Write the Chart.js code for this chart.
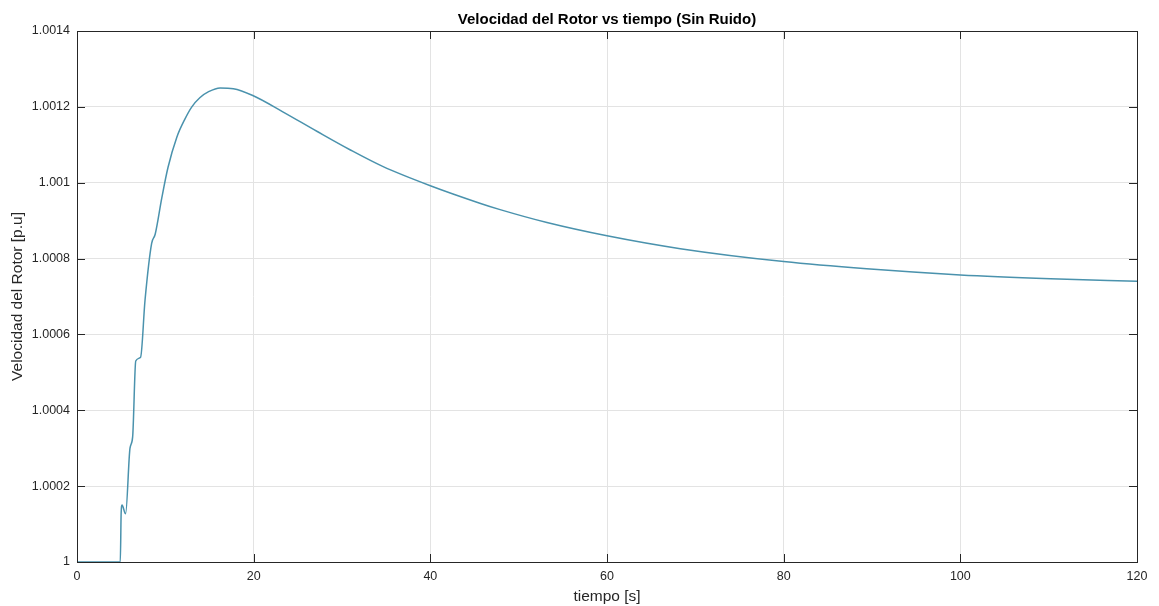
<!DOCTYPE html>
<html>
<head>
<meta charset="utf-8">
<script src="https://cdn.jsdelivr.net/npm/chart.js@4/dist/chart.umd.min.js"></script>
<style>
  html, body { margin: 0; padding: 0; background: #fff; }
  #wrap { width: 1159px; height: 606px; position: relative; }
</style>
</head>
<body>
<div id="wrap"><canvas id="chart-rotor"></canvas></div>
<script>
// ── DATOS ────────────────────────────────────────────────────────────────────

const tiempo = [0, 4.9, 5.0, 5.1, 5.5, 6.0, 6.3, 6.65, 7.2, 7.7, 8.45, 8.85, 9.6, 10.3,
  11.3, 12.2, 13.0, 13.9, 14.9, 16.2, 17.7, 19.9, 23.3, 27.2, 30.9, 34.6, 40, 45.6,
  47.9, 53.2, 60, 68.3, 80, 89.4, 100, 110.2, 120]

const velocidad = [1, 1, 1.00013, 1.00015, 1.000127, 1.0003, 1.00033, 1.00053, 1.00054,
  1.00069, 1.00084, 1.000864, 1.00096, 1.00104, 1.00112, 1.001167, 1.0012, 1.001224,
  1.00124, 1.00125, 1.001248, 1.00123, 1.001187, 1.001135, 1.001087, 1.001043,
  1.000992, 1.000946, 1.000929, 1.000895, 1.00086, 1.000826, 1.000792, 1.000773,
  1.000757, 1.000747, 1.00074]

const xTicks = [0, 20, 40, 60, 80, 100, 120]
const yTicks = [1, 1.0002, 1.0004, 1.0006, 1.0008, 1.001, 1.0012, 1.0014]

const FONT = 'Liberation Sans, Arial, Helvetica, sans-serif'

// ── PLUGIN: marco y marcas hacia dentro (estilo MATLAB) ──────────────────────

const boxPlugin = {
  id: 'box',
  afterDraw(chart) {
    const { ctx, chartArea: a, scales } = chart
    ctx.save()
    ctx.strokeStyle = '#262626'
    ctx.lineWidth = 1
    ctx.strokeRect(a.left + 0.5, a.top + 0.5, a.right - a.left, a.bottom - a.top)
    const len = 8
    ctx.beginPath()
    xTicks.forEach(v => {
      const x = Math.round(scales.x.getPixelForValue(v)) + 0.5
      ctx.moveTo(x, a.bottom); ctx.lineTo(x, a.bottom - len)
      ctx.moveTo(x, a.top); ctx.lineTo(x, a.top + len)
    })
    yTicks.forEach(v => {
      const y = Math.round(scales.y.getPixelForValue(v)) + 0.5
      ctx.moveTo(a.left, y); ctx.lineTo(a.left + len, y)
      ctx.moveTo(a.right, y); ctx.lineTo(a.right - len, y)
    })
    ctx.stroke()
    ctx.restore()
  }
}

// ── GRÁFICO ──────────────────────────────────────────────────────────────────

const ctx = document.getElementById('chart-rotor').getContext('2d')
new Chart(ctx, {
  type: 'line',
  data: {
    datasets: [{
      data: tiempo.map((t, i) => ({ x: t, y: velocidad[i] })),
      borderColor: '#4a92ad',
      borderWidth: 1.5,
      pointRadius: 0,
      cubicInterpolationMode: 'monotone',
      fill: false
    }]
  },
  options: {
    responsive: true,
    maintainAspectRatio: false,
    animation: false,
    layout: { padding: { top: 0, right: 22, bottom: 0, left: 0 } },
    plugins: {
      legend: { display: false },
      tooltip: { enabled: false },
      title: {
        display: true,
        fullSize: false,
        text: 'Velocidad del Rotor vs tiempo (Sin Ruido)',
        color: '#000',
        font: { family: FONT, size: 15, weight: 'bold' },
        padding: { top: 11, bottom: 2 }
      }
    },
    scales: {
      x: {
        type: 'linear',
        min: 0, max: 120,
        afterBuildTicks: s => { s.ticks = xTicks.map(v => ({ value: v })) },
        grid: { color: '#e3e3e3', tickLength: 0, drawTicks: false },
        border: { display: false },
        ticks: { color: '#262626', font: { family: FONT, size: 12.5 }, padding: 7, maxRotation: 0 },
        title: {
          display: true, text: 'tiempo [s]', color: '#262626',
          font: { family: FONT, size: 15.5 }, padding: { top: 0, bottom: 0 }
        },
        afterFit: s => { s.height = 44 }
      },
      y: {
        min: 1, max: 1.0014,
        afterBuildTicks: s => { s.ticks = yTicks.map(v => ({ value: v })) },
        grid: { color: '#e3e3e3', tickLength: 0, drawTicks: false },
        border: { display: false },
        ticks: {
          color: '#262626', font: { family: FONT, size: 12.5 }, padding: 7,
          callback: v => String(Number(v.toFixed(4)))
        },
        title: {
          display: true, text: 'Velocidad del Rotor [p.u]', color: '#262626',
          font: { family: FONT, size: 15.5 }, padding: { top: 8, bottom: 0 }
        },
        afterFit: s => { s.width = 77 }
      }
    }
  },
  plugins: [boxPlugin]
})
</script>
</body>
</html>
